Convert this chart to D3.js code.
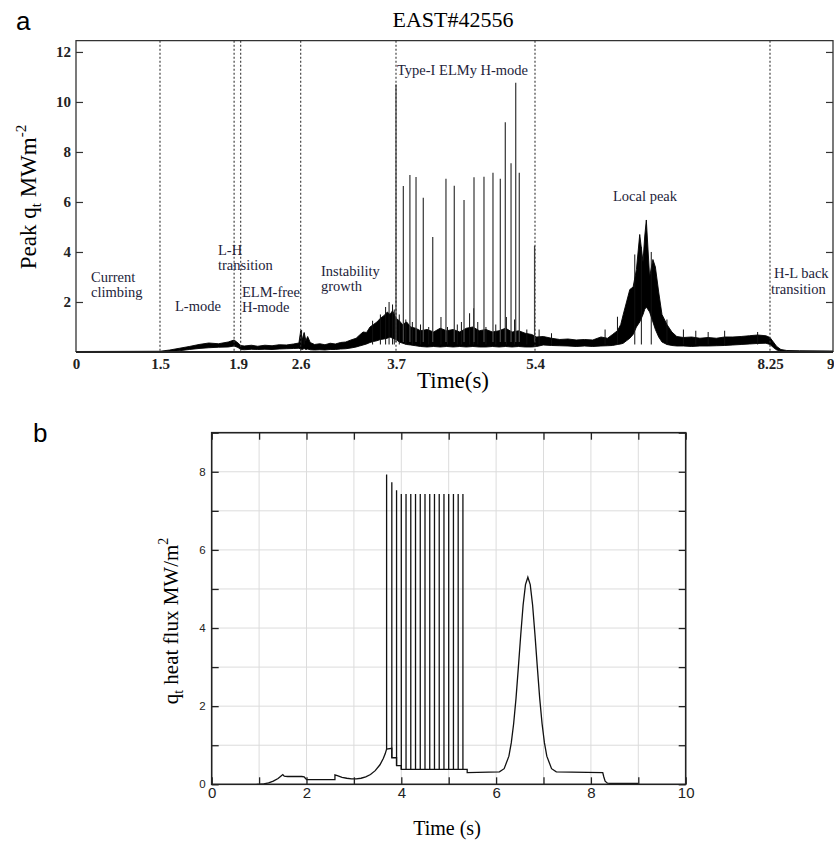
<!DOCTYPE html>
<html>
<head>
<meta charset="utf-8">
<script src="https://cdn.jsdelivr.net/npm/d3@7"></script>
<style>
  body { margin: 0; background: #fff; }
  text { font-family: "Liberation Serif", "Times New Roman", serif; }
  .sans { font-family: "Liberation Sans", Arial, sans-serif; }
</style>
</head>
<body>
<script>
/* ---------- panel a : measured peak q_t, EAST#42556 ---------- */
var tickT   = [0, 1.5, 1.9, 2.6, 3.7, 5.4, 8.25, 9];
var tickLab = ["0", "1.5", "1.9", "2.6", "3.7", "5.4", "8.25", "9"];
var phaseT  = [1.5, 1.88, 1.93, 2.6, 3.7, 5.4, 8.25];   // dotted phase boundaries
var yTicksA = [2, 4, 6, 8, 10, 12];

// noisy signal, read as a lower / upper envelope
var bandT  = [0, 1.5, 1.55, 1.6, 1.65, 1.7, 1.75, 1.8, 1.85, 1.88, 1.9, 1.93, 1.97, 2.05, 2.12, 2.2, 2.28, 2.36, 2.44, 2.52, 2.58,
              2.6, 2.62, 2.64, 2.66, 2.68, 2.71, 2.76, 2.82, 2.88, 2.94, 3.0, 3.06, 3.12, 3.18, 3.24, 3.28, 3.32, 3.36, 3.4,
              3.44, 3.48, 3.52, 3.56, 3.6, 3.63, 3.66, 3.7, 3.74, 3.78, 3.83, 3.88, 3.94, 4.0, 4.08, 4.16, 4.24, 4.32, 4.4,
              4.48, 4.56, 4.64, 4.72, 4.8, 4.88, 4.96, 5.04, 5.12, 5.2, 5.28, 5.36, 5.42, 5.5, 5.6, 5.7, 5.8, 5.9, 6.0, 6.1,
              6.2, 6.28, 6.34, 6.4, 6.44, 6.47, 6.51, 6.55, 6.59, 6.63, 6.67, 6.71, 6.73, 6.75, 6.79, 6.83, 6.86, 6.9, 6.94,
              7.0, 7.06, 7.12, 7.2, 7.3, 7.4, 7.5, 7.6, 7.7, 7.8, 7.9, 8.0, 8.1, 8.2, 8.25, 8.29, 8.33, 8.38, 8.45, 8.6, 9.0];
var bandLo = [0, 0, 0.02, 0.05, 0.1, 0.14, 0.17, 0.19, 0.2, 0.24, 0.18, 0.1, 0.09, 0.11, 0.1, 0.11, 0.1, 0.12, 0.13, 0.14, 0.15,
              0.12, 0.1, 0.14, 0.1, 0.12, 0.09, 0.08, 0.09, 0.08, 0.1, 0.1, 0.12, 0.13, 0.16, 0.2, 0.24, 0.28, 0.32, 0.38,
              0.42, 0.45, 0.5, 0.52, 0.55, 0.6, 0.55, 0.5, 0.4, 0.35, 0.3, 0.28, 0.25, 0.22, 0.2, 0.22, 0.2, 0.22, 0.2,
              0.22, 0.2, 0.22, 0.2, 0.2, 0.22, 0.2, 0.22, 0.2, 0.22, 0.2, 0.2, 0.22, 0.28, 0.26, 0.25, 0.24, 0.22, 0.24, 0.22,
              0.24, 0.25, 0.26, 0.3, 0.32, 0.35, 0.45, 0.55, 0.7, 1.0, 1.2, 1.5, 1.7, 1.8, 1.6, 1.2, 0.9, 0.6, 0.4,
              0.3, 0.26, 0.24, 0.24, 0.22, 0.24, 0.24, 0.25, 0.26, 0.28, 0.3, 0.32, 0.34, 0.35, 0.3, 0.18, 0.08, 0.03, 0.02, 0.01, 0.01];
var bandHi = [0.02, 0.03, 0.08, 0.15, 0.22, 0.3, 0.36, 0.33, 0.4, 0.48, 0.36, 0.26, 0.24, 0.27, 0.23, 0.27, 0.25, 0.29, 0.28, 0.32, 0.36,
              0.85, 0.5, 0.78, 0.45, 0.62, 0.38, 0.3, 0.33, 0.29, 0.35, 0.32, 0.38, 0.4, 0.48, 0.55, 0.68, 0.8, 0.78, 1.0,
              1.1, 1.2, 1.35, 1.45, 1.6, 1.5, 1.65, 1.35, 1.25, 1.1, 1.2, 1.0, 0.95, 0.85, 0.9, 0.8, 0.95, 0.85, 0.9,
              0.8, 0.95, 1.0, 0.85, 0.9, 0.8, 0.85, 0.95, 0.8, 0.85, 0.75, 0.7, 0.6, 0.62, 0.55, 0.5, 0.52, 0.48, 0.5, 0.48,
              0.6, 0.55, 0.7, 0.85, 1.1, 1.5, 2.0, 2.5, 2.6, 3.3, 4.7, 3.6, 4.6, 5.28, 3.0, 3.7, 3.4, 2.4, 1.5,
              1.1, 0.8, 0.62, 0.58, 0.6, 0.55, 0.58, 0.55, 0.6, 0.6, 0.62, 0.65, 0.68, 0.65, 0.58, 0.4, 0.22, 0.1, 0.06, 0.05, 0.04];

// Type-I ELM spikes
var elmT = [3.70, 3.79, 3.87, 3.945, 4.034, 4.149, 4.311, 4.413, 4.532, 4.654, 4.776, 4.886, 4.976, 5.037, 5.107, 5.164, 5.208, 5.395];
var elmQ = [10.7, 6.64, 7.08, 7.0, 6.17, 4.6, 6.93, 6.65, 6.08, 6.99, 7.01, 7.17, 6.93, 9.19, 7.55, 10.77, 7.17, 4.25];

// small spikes on top of the band
var smallT = [2.61, 2.64, 3.43, 3.52, 3.58, 3.62, 3.66, 3.68, 3.74, 3.82, 3.9, 4.0, 4.1, 4.25, 4.33, 4.45, 4.5, 4.6, 4.65,
              4.7, 4.8, 4.92, 5.05, 5.15, 5.3, 5.45, 5.6, 6.25, 6.4, 6.61, 6.69, 6.81, 7.0, 7.2, 7.35, 7.5, 7.7, 8.1];
var smallQ = [0.88, 0.75, 1.25, 1.5, 1.8, 2.0, 1.9, 1.7, 1.5, 1.3, 1.2, 1.1, 1.0, 1.4, 1.0, 1.1, 1.2, 1.55, 1.75,
              1.2, 1.0, 1.1, 1.4, 1.3, 0.9, 0.9, 0.75, 0.9, 1.41, 3.9, 4.2, 4.0, 1.3, 0.9, 0.85, 0.8, 0.85, 0.8];

var phaseText = [["Current", "climbing"], ["L-mode"], ["L-H", "transition"], ["ELM-free", "H-mode"],
                 ["Instability", "growth"], ["Type-I ELMy H-mode"], ["Local peak"], ["H-L back", "transition"]];

/* ---------- panel b : model q_t ---------- */
var baseT = [0.95, 1.0, 1.1, 1.2, 1.3, 1.4, 1.47, 1.5, 1.53, 1.6, 1.9, 1.95, 1.98, 2.0, 2.6, 2.6, 2.65, 2.75, 2.85, 2.95,
             3.05, 3.15, 3.25, 3.35, 3.45, 3.55, 3.62, 3.66, 3.69, 3.8, 3.8, 3.9, 3.9, 4.0, 4.0, 5.39, 5.39,
             6.07, 6.17, 6.27, 6.32, 6.37, 6.42, 6.47, 6.52, 6.57, 6.62, 6.67, 6.72, 6.77, 6.82, 6.87, 6.92, 6.97,
             7.02, 7.07, 7.17, 7.27, 8.25, 8.27, 8.3, 8.35, 8.45, 9.0];
var baseQ = [0, 0, 0.01, 0.035, 0.08, 0.15, 0.22, 0.25, 0.21, 0.2, 0.2, 0.19, 0.15, 0.12, 0.12, 0.24, 0.22, 0.18, 0.155, 0.14,
             0.14, 0.155, 0.19, 0.25, 0.35, 0.5, 0.66, 0.78, 0.9, 0.92, 0.68, 0.68, 0.48, 0.48, 0.38, 0.38, 0.3,
             0.32, 0.4, 0.72, 1.06, 1.55, 2.2, 3.0, 3.83, 4.59, 5.11, 5.3, 5.11, 4.59, 3.83, 3.0, 2.2, 1.55,
             1.06, 0.72, 0.4, 0.32, 0.3, 0.2, 0.08, 0.03, 0.02, 0.02];
var spikeT    = [3.69, 3.8, 3.9, 4.0, 4.1, 4.2, 4.3, 4.4, 4.5, 4.6, 4.7, 4.8, 4.9, 5.0, 5.1, 5.2, 5.3];
var spikeQ    = [7.93, 7.73, 7.53, 7.43, 7.43, 7.43, 7.43, 7.43, 7.43, 7.43, 7.43, 7.43, 7.43, 7.43, 7.43, 7.43, 7.43];
var spikeBase = [0.9, 0.68, 0.48, 0.38, 0.38, 0.38, 0.38, 0.38, 0.38, 0.38, 0.38, 0.38, 0.38, 0.38, 0.38, 0.38, 0.38];
var xTicksB = [0, 1, 2, 3, 4, 5, 6, 7, 8, 9, 10];
var yTicksB = [0, 1, 2, 3, 4, 5, 6, 7, 8, 9];

var W = 834, H = 841;
var svg = d3.select("body").append("svg").attr("width", W).attr("height", H);

/* ================= panel a ================= */
var xA = d3.scaleLinear().domain(tickT).range([76, 160, 238, 300.7, 396, 535, 770, 833]);
var yA = d3.scaleLinear().domain([0, 12.45]).range([352, 40.7]);
var gA = svg.append("g");

var band = d3.range(bandT.length).map(function(i) { return {t: bandT[i], lo: bandLo[i], hi: bandHi[i]}; });
gA.append("path").datum(band)
  .attr("d", d3.area().x(function(d) { return xA(d.t); }).y0(function(d) { return yA(d.lo); }).y1(function(d) { return yA(d.hi); }))
  .attr("fill", "#000").attr("stroke", "#000").attr("stroke-width", 0.9);

gA.selectAll(".small").data(smallT).enter().append("line")
  .attr("x1", function(d) { return xA(d); }).attr("x2", function(d) { return xA(d); })
  .attr("y1", yA(0.3)).attr("y2", function(d, i) { return yA(smallQ[i]); })
  .attr("stroke", "#111").attr("stroke-width", 1);

gA.selectAll(".elm").data(elmT).enter().append("line")
  .attr("x1", function(d) { return xA(d); }).attr("x2", function(d) { return xA(d); })
  .attr("y1", yA(0.4)).attr("y2", function(d, i) { return yA(elmQ[i]); })
  .attr("stroke", "#444").attr("stroke-width", 1.3);

gA.selectAll(".phase").data(phaseT).enter().append("line")
  .attr("x1", function(d) { return xA(d); }).attr("x2", function(d) { return xA(d); })
  .attr("y1", yA(12.45)).attr("y2", yA(0))
  .attr("stroke", "#333").attr("stroke-width", 1.1).attr("stroke-dasharray", "2,2");

// frame
gA.append("path")
  .attr("d", "M" + xA(0) + "," + yA(0) + "V" + yA(12.45) + "H" + xA(9) + "V" + yA(0))
  .attr("fill", "none").attr("stroke", "#333").attr("stroke-width", 1.3);
gA.append("line").attr("x1", xA(0)).attr("x2", xA(9)).attr("y1", yA(0)).attr("y2", yA(0))
  .attr("stroke", "#222").attr("stroke-width", 2);

var axL = gA.append("g").attr("transform", "translate(" + xA(0) + ",0)")
  .call(d3.axisLeft(yA).tickValues(yTicksA).tickSize(-7).tickPadding(5));
axL.select(".domain").remove();
axL.selectAll("text").attr("font-family", "Liberation Serif").attr("font-size", 15).attr("font-weight", "bold").attr("fill", "#222");
axL.selectAll("line").attr("stroke", "#333").attr("stroke-width", 1.2);

var axR = gA.append("g").attr("transform", "translate(" + xA(9) + ",0)")
  .call(d3.axisRight(yA).tickValues(yTicksA).tickSize(-7).tickFormat(""));
axR.select(".domain").remove();
axR.selectAll("line").attr("stroke", "#333").attr("stroke-width", 1.2);

var axB = gA.append("g").attr("transform", "translate(0," + yA(0) + ")")
  .call(d3.axisBottom(xA).tickValues(tickT).tickSize(0).tickPadding(6).tickFormat(function(d, i) { return tickLab[i]; }));
axB.select(".domain").remove();
axB.selectAll("text").attr("font-family", "Liberation Serif").attr("font-size", 15).attr("font-weight", "bold").attr("fill", "#222");
// last label sits on the right edge of the page
axB.selectAll("text").filter(function(d) { return d === 9; }).attr("text-anchor", "end").attr("dx", 1);

// phase annotations
var annPos = [[91, 282], [175, 311], [218, 255], [242, 297], [321, 276], [397, 75], [613, 201], [774, 278]];
var annStep = [15, 0, 15, 15, 15, 0, 0, 16];
phaseText.forEach(function(lines, i) {
  var t = gA.append("text").attr("font-size", 14.5).attr("fill", "#23233a");
  lines.forEach(function(s, j) {
    t.append("tspan").attr("x", annPos[i][0] - (i === 7 && j === 1 ? 3 : 0)).attr("y", annPos[i][1] + j * annStep[i]).text(s);
  });
});

svg.append("text").attr("x", 453).attr("y", 27).attr("text-anchor", "middle").attr("font-size", 22).text("EAST#42556");
svg.append("text").attr("class", "sans").attr("x", 16).attr("y", 30).attr("font-size", 26).text("a");

var labA = svg.append("text").attr("transform", "translate(36,197) rotate(-90)").attr("text-anchor", "middle").attr("font-size", 23);
labA.append("tspan").text("Peak q");
labA.append("tspan").attr("font-size", 15).attr("dy", 5).text("t");
labA.append("tspan").attr("dy", -5).text(" MWm");
labA.append("tspan").attr("font-size", 15).attr("dy", -10).text("-2");

svg.append("text").attr("x", 453).attr("y", 388).attr("text-anchor", "middle").attr("font-size", 23).text("Time(s)");

/* ================= panel b ================= */
var xB = d3.scaleLinear().domain([0, 10]).range([211.7, 685.7]);
var yB = d3.scaleLinear().domain([0, 9]).range([784.3, 432.7]);
var gB = svg.append("g");

gB.selectAll(".gx").data(xTicksB.slice(1, -1)).enter().append("line")
  .attr("x1", function(d) { return xB(d); }).attr("x2", function(d) { return xB(d); })
  .attr("y1", yB(0)).attr("y2", yB(9)).attr("stroke", "#dcdcdc").attr("stroke-width", 1);
gB.selectAll(".gy").data(yTicksB.slice(1)).enter().append("line")
  .attr("x1", xB(0)).attr("x2", xB(10))
  .attr("y1", function(d) { return yB(d); }).attr("y2", function(d) { return yB(d); })
  .attr("stroke", "#dcdcdc").attr("stroke-width", 1);

var base = d3.range(baseT.length).map(function(i) { return [baseT[i], baseQ[i]]; });
gB.append("path").datum(base)
  .attr("d", d3.line().x(function(d) { return xB(d[0]); }).y(function(d) { return yB(d[1]); }))
  .attr("fill", "none").attr("stroke", "#111").attr("stroke-width", 1.3);

gB.selectAll(".spk").data(spikeT).enter().append("line")
  .attr("x1", function(d) { return xB(d); }).attr("x2", function(d) { return xB(d); })
  .attr("y1", function(d, i) { return yB(spikeBase[i]); }).attr("y2", function(d, i) { return yB(spikeQ[i]); })
  .attr("stroke", "#111").attr("stroke-width", 1.3);

function styleB(g) {
  g.select(".domain").remove();
  g.selectAll("line").attr("stroke", "#222").attr("stroke-width", 1.3);
  g.selectAll("text").attr("class", "sans").attr("fill", "#222");
}
var bL = gB.append("g").attr("transform", "translate(" + xB(0) + ",0)")
  .call(d3.axisLeft(yB).tickValues(yTicksB).tickSize(-7).tickPadding(6)
    .tickFormat(function(d) { return d % 2 === 0 && d < 9 ? d : ""; }));
styleB(bL); bL.selectAll("text").attr("font-size", 11.5);
var bR = gB.append("g").attr("transform", "translate(" + xB(10) + ",0)")
  .call(d3.axisRight(yB).tickValues(yTicksB).tickSize(-7).tickFormat(""));
styleB(bR);
var bB = gB.append("g").attr("transform", "translate(0," + yB(0) + ")")
  .call(d3.axisBottom(xB).tickValues(xTicksB).tickSize(-7).tickPadding(3)
    .tickFormat(function(d) { return d % 2 === 0 ? d : ""; }));
styleB(bB); bB.selectAll("text").attr("font-size", 15);
var bT = gB.append("g").attr("transform", "translate(0," + yB(9) + ")")
  .call(d3.axisTop(xB).tickValues(xTicksB).tickSize(-7).tickFormat(""));
styleB(bT);

gB.append("rect").attr("x", xB(0)).attr("y", yB(9)).attr("width", xB(10) - xB(0)).attr("height", yB(0) - yB(9))
  .attr("fill", "none").attr("stroke", "#222").attr("stroke-width", 1.6);

svg.append("text").attr("class", "sans").attr("x", 33).attr("y", 442).attr("font-size", 26).text("b");

var labB = svg.append("text").attr("transform", "translate(178,621) rotate(-90)").attr("text-anchor", "middle").attr("font-size", 21);
labB.append("tspan").text("q");
labB.append("tspan").attr("font-size", 14).attr("dy", 5).text("t");
labB.append("tspan").attr("dy", -5).text(" heat flux MW/m");
labB.append("tspan").attr("font-size", 14).attr("dy", -10).text("2");

svg.append("text").attr("x", 447).attr("y", 835).attr("text-anchor", "middle").attr("font-size", 20).text("Time (s)");
</script>
</body>
</html>
